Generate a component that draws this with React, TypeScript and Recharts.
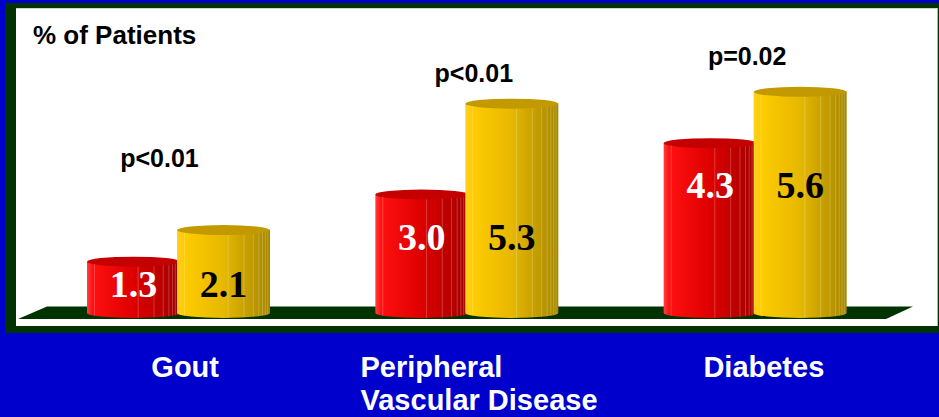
import React from "react"
import { Bar, BarChart, XAxis, YAxis } from "recharts"

// Values per condition, % of patients
const CATEGORIES = ["Gout", "Peripheral Vascular Disease", "Diabetes"]
const RED_VALUES = [1.3, 3.0, 4.3]
const GOLD_VALUES = [2.1, 5.3, 5.6]
const P_VALUES = ["p<0.01", "p<0.01", "p=0.02"]
const CATEGORY_LINES = [["Gout"], ["Peripheral", "Vascular Disease"], ["Diabetes"]]

const data = CATEGORIES.map((name, i) => ({
  name,
  red: RED_VALUES[i],
  gold: GOLD_VALUES[i],
  p: P_VALUES[i],
}))

const WIDTH = 939
const HEIGHT = 417
const BAR_SIZE = 93
const BAR_GAP = -3
const GROUP_WIDTH = BAR_SIZE * 2 + BAR_GAP

const SANS = '"Liberation Sans", Arial, sans-serif'
const SERIF = '"Liberation Serif", "Times New Roman", serif'

// p-value annotation offsets from the gold cylinder top / group centre
const P_OFFSETS = [
  { dx: -19, dy: -63 },
  { dx: 7, dy: -22 },
  { dx: -8, dy: -27 },
]

// category label placement relative to the band centre
const CATEGORY_LAYOUT = [
  { anchor: "middle", dx: 7 },
  { anchor: "start", dx: -106 },
  { anchor: "middle", dx: 9 },
]

const PALETTE = {
  red: { light: "#ff1010", mid: "#dd0000", dark: "#a20000", top: "#c40000", text: "#ffffff" },
  gold: { light: "#ffcc00", mid: "#e6b800", dark: "#a68600", top: "#c29a00", text: "#000000" },
}

function Cylinder(props: any) {
  const { x, y, width, height, payload, index, series } = props
  const c = PALETTE[series as "red" | "gold"]
  const ry = 5
  const rx = width / 2
  const bottom = y + height
  const facets = [0.08, 0.55, 0.72, 0.82, 0.88, 0.92, 0.95, 0.975]

  // value labels of a pair sit at the same height, keyed off the red cylinder
  const own = payload[series]
  const redHeight = own ? (height * payload.red) / own : 0
  const redTop = bottom - redHeight
  const labelBase = redTop + Math.min(redHeight / 2 + 10, 55)

  const groupCenter =
    series === "gold" ? x + width - GROUP_WIDTH / 2 : x + GROUP_WIDTH / 2
  const off = P_OFFSETS[index]

  return (
    <g>
      <path
        d={`M${x},${y} L${x},${bottom} A${rx},${ry} 0 0 0 ${x + width},${bottom} L${x + width},${y} Z`}
        fill={`url(#grad-${series})`}
      />
      {facets.map((f) => (
        <line
          key={f}
          x1={x + width * f}
          x2={x + width * f}
          y1={y}
          y2={bottom + ry * Math.sqrt(1 - Math.pow(2 * f - 1, 2))}
          stroke="#ffffff"
          strokeOpacity={0.28}
          strokeWidth={0.8}
        />
      ))}
      <ellipse cx={x + rx} cy={y} rx={rx} ry={ry} fill={c.top} />
      <text
        x={x + rx}
        y={labelBase}
        textAnchor="middle"
        fontFamily={SERIF}
        fontWeight="bold"
        fontSize={38}
        fill={c.text}
      >
        {own.toFixed(1)}
      </text>
      {series === "gold" && (
        <text
          x={groupCenter + off.dx}
          y={y + off.dy}
          textAnchor="middle"
          fontFamily={SANS}
          fontWeight="bold"
          fontSize={25}
          fill="#000000"
        >
          {payload.p}
        </text>
      )}
    </g>
  )
}

function CategoryTick(props: any) {
  const { x, y, payload } = props
  const i = payload.index ?? CATEGORIES.indexOf(payload.value)
  const lines = CATEGORY_LINES[i]
  const layout = CATEGORY_LAYOUT[i]
  return (
    <text
      x={x + layout.dx}
      y={y + 64}
      textAnchor={layout.anchor}
      fontFamily={SANS}
      fontWeight="bold"
      fontSize={29}
      fill="#ffffff"
    >
      {lines.map((line, j) => (
        <tspan key={line} x={x + layout.dx} dy={j === 0 ? 0 : 33}>
          {line}
        </tspan>
      ))}
    </text>
  )
}

export default function App() {
  return (
    <div
      style={{
        position: "absolute",
        left: 0,
        top: 0,
        width: WIDTH,
        height: HEIGHT,
        background: "#0000cc",
        overflow: "hidden",
      }}
    >
      {/* dark green frame and white panel */}
      <div
        style={{
          position: "absolute",
          left: 5,
          top: 3,
          width: WIDTH - 5,
          height: 330,
          background: "#003300",
        }}
      />
      <div
        style={{
          position: "absolute",
          left: 16,
          top: 8,
          width: 921,
          height: 317,
          background: "#ffffff",
          borderRight: "1px solid #a8b8a8",
          borderTop: "1px solid #c8d4c8",
        }}
      />
      <svg
        width={WIDTH}
        height={HEIGHT}
        style={{ position: "absolute", left: 0, top: 0 }}
      >
        <polygon points="47,306.5 913,306.5 886,319 18,319" fill="#003300" />
        <text
          x={33}
          y={44}
          fontFamily={SANS}
          fontWeight="bold"
          fontSize={26}
          fill="#000000"
        >
          % of Patients
        </text>
      </svg>
      <div style={{ position: "absolute", left: 0, top: 0 }}>
        <BarChart
          width={WIDTH}
          height={HEIGHT}
          data={data}
          margin={{ top: 36.5, right: 40, bottom: 0, left: 34 }}
          barSize={BAR_SIZE}
          barGap={BAR_GAP}
          barCategoryGap={0}
        >
          <defs>
            <linearGradient id="grad-red" x1="0" y1="0" x2="1" y2="0">
              <stop offset="0" stopColor="#ff4040" />
              <stop offset="0.06" stopColor={PALETTE.red.light} />
              <stop offset="0.5" stopColor={PALETTE.red.mid} />
              <stop offset="1" stopColor={PALETTE.red.dark} />
            </linearGradient>
            <linearGradient id="grad-gold" x1="0" y1="0" x2="1" y2="0">
              <stop offset="0" stopColor="#ffd020" />
              <stop offset="0.08" stopColor={PALETTE.gold.light} />
              <stop offset="0.5" stopColor={PALETTE.gold.mid} />
              <stop offset="1" stopColor={PALETTE.gold.dark} />
            </linearGradient>
          </defs>
          <XAxis
            dataKey="name"
            height={104}
            axisLine={false}
            tickLine={false}
            tickSize={0}
            tickMargin={0}
            interval={0}
            tick={<CategoryTick />}
          />
          <YAxis hide domain={[0, 7]} />
          <Bar
            dataKey="red"
            isAnimationActive={false}
            shape={(p: any) => <Cylinder {...p} series="red" />}
          />
          <Bar
            dataKey="gold"
            isAnimationActive={false}
            shape={(p: any) => <Cylinder {...p} series="gold" />}
          />
        </BarChart>
      </div>
    </div>
  )
}
